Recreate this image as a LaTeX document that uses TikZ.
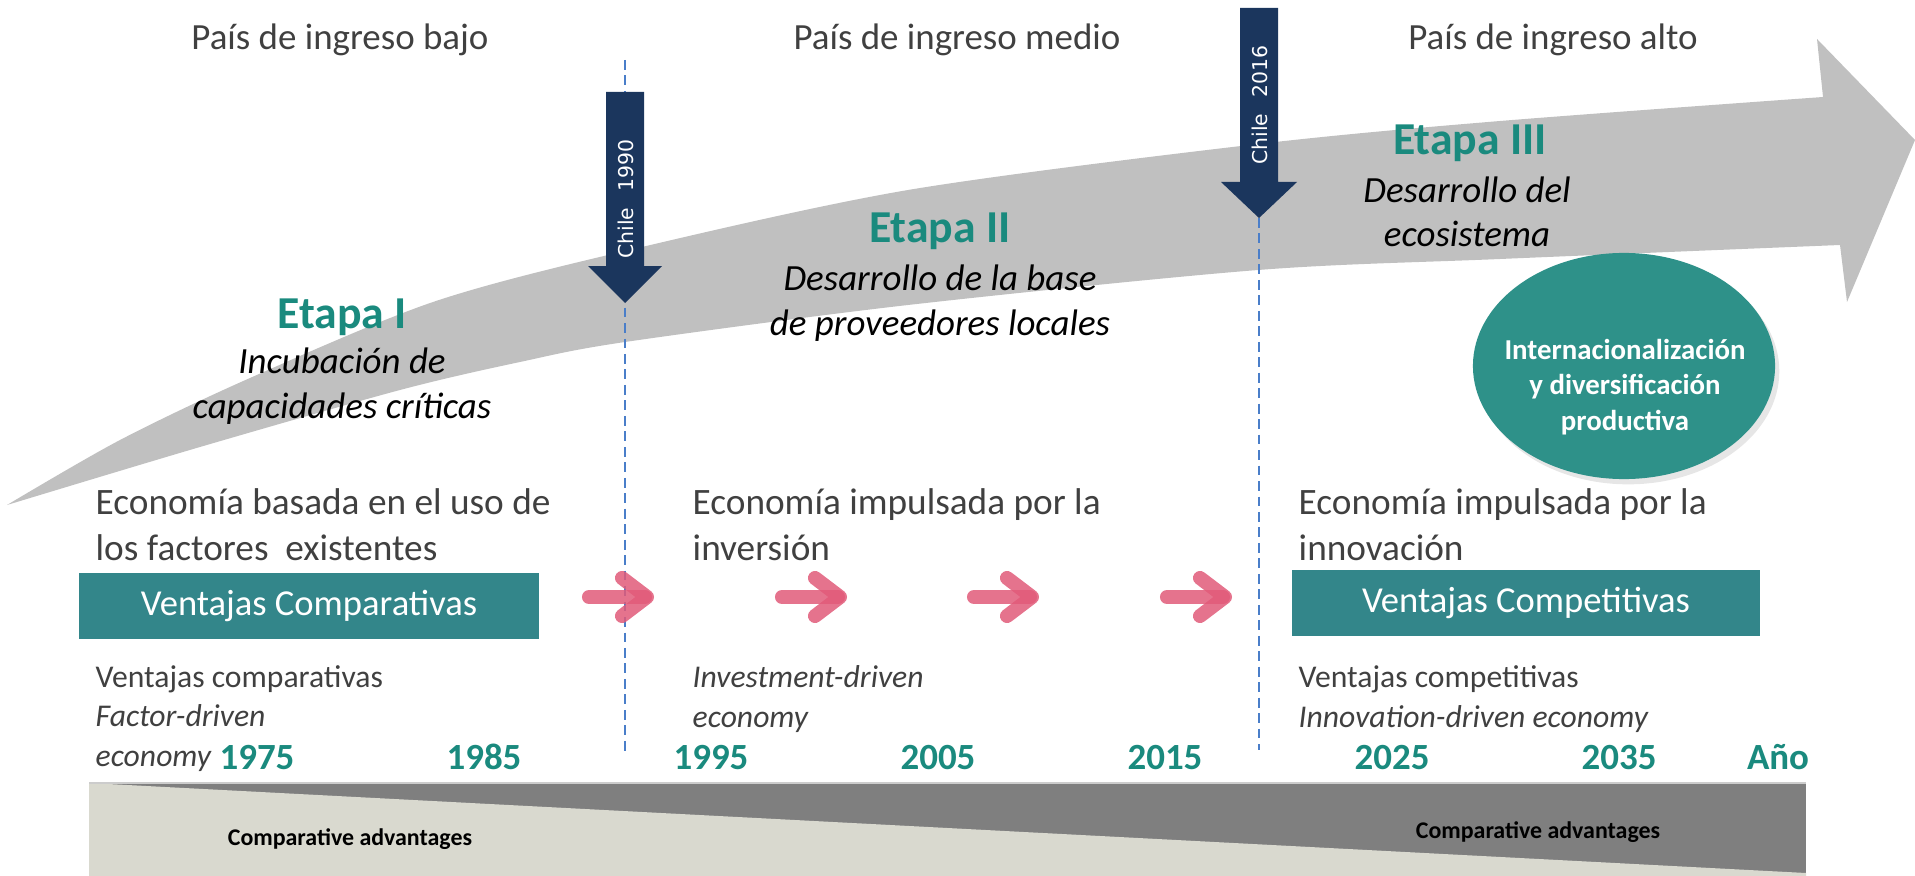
\documentclass[tikz,border=0pt]{standalone}
\usepackage{fontspec}
\setmainfont{Carlito}
\newfontfamily\chilefont{DejaVu Sans}
\usetikzlibrary{positioning, calc, shapes, shadows}

\definecolor{textgray}{HTML}{404040}
\definecolor{etapateal}{HTML}{1A8A7E}
\definecolor{boxteal}{HTML}{33868A}
\definecolor{ovalteal}{HTML}{2E9189}
\definecolor{navy}{HTML}{1B365D}
\definecolor{arrowgray}{HTML}{C0C0C0}
\definecolor{pinkc}{HTML}{E15A79}
\definecolor{guideblue}{HTML}{4A7EC9}
\definecolor{banddark}{HTML}{7F7F7F}
\definecolor{bandlight}{HTML}{D9D9CF}

\begin{document}
\begin{tikzpicture}[x=0.01cm, y=-0.01cm,
    header/.style={font=\fontsize{10.5}{12.6}\selectfont, text=textgray, anchor=base, inner sep=0pt},
    etapa/.style={font=\bfseries\fontsize{13}{15}\selectfont, text=etapateal, anchor=base, inner sep=0pt},
    etapadesc/.style={font=\itshape\fontsize{10.5}{12.6}\selectfont, align=center, anchor=base, inner sep=0pt},
    econ/.style={font=\fontsize{10.6}{12.8}\selectfont, text=textgray, align=left, anchor=base west, inner sep=0pt},
    advbox/.style={fill=boxteal, text=white, font=\fontsize{10.4}{12}\selectfont, minimum height=0.65cm, inner sep=0pt},
    note/.style={font=\fontsize{9}{11.1}\selectfont, text=textgray, align=left, anchor=base west, inner sep=0pt},
    yearlabel/.style={font=\bfseries\fontsize{10.5}{12}\selectfont, text=etapateal, anchor=base, inner sep=0pt},
    bandlabel/.style={font=\bfseries\fontsize{6.8}{8}\selectfont, anchor=base, inner sep=0pt},
    chilelabel/.style={font=\chilefont\fontsize{5.8}{7}\selectfont, text=white, rotate=90, inner sep=0pt},
    pinkarrow/.style={draw=pinkc, line width=4pt, line cap=round, line join=round, opacity=0.85},
    guide/.style={draw=guideblue, line width=0.5pt, dash pattern=on 2.8pt off 1.6pt}]
  \useasboundingbox (0,0) rectangle (1915,876);

  \fill[arrowgray] plot[smooth] coordinates {(7,505) (120,440) (250,378) (433,302) (625,251) (908,190) (1258,144) (1500,121) (1823,97)}
    -- (1817,39) -- (1915,140) -- (1847,302) -- (1840,245)
    -- plot[smooth] coordinates {(1840,245) (1500,259) (1258,270) (908,305) (625,342) (520,362) (400,390) (200,447) (7,505)} -- cycle;

  \coordinate (g1top) at (625,60);
  \coordinate (g1bot) at (625,752);
  \coordinate (g2top) at (1259,218);
  \coordinate (g2bot) at (1259,750);
  \draw[guide] (g1top) -- (g1bot);
  \draw[guide] (g2top) -- (g2bot);

  \fill[navy] (606,92) -- (644,92) -- (644,266) -- (662,266) -- (625,303) -- (588,266) -- (606,266) -- cycle;
  \fill[navy] (1240,8) -- (1278,8) -- (1278,182) -- (1297,182) -- (1259,218) -- (1221,182) -- (1240,182) -- cycle;
  \node[chilelabel] (chile90) at (626,199) {Chile\hspace{0.8em}1990};
  \node[chilelabel] (chile16) at (1260,105) {Chile\hspace{0.8em}2016};

  \node[header] (hdrlow) at (340,50) {País de ingreso bajo};
  \node[header] (hdrmid) at (957,50) {País de ingreso medio};
  \node[header] (hdrhigh) at (1553,50) {País de ingreso alto};

  \node[etapa] (etapaI) at (342,328) {Etapa I};
  \node[etapadesc] (descI) at (342,418) {Incubación de\\capacidades críticas};
  \node[etapa] (etapaII) at (940,242) {Etapa II};
  \node[etapadesc] (descII) at (940,335) {Desarrollo de la base\\de proveedores locales};
  \node[etapa] (etapaIII) at (1470,155) {Etapa III};
  \node[etapadesc] (descIII) at (1467,247) {Desarrollo del\\ecosistema};

  \node[ellipse, fill=ovalteal, minimum width=3.02cm, minimum height=2.26cm,
    drop shadow={opacity=0.2, shadow xshift=1.2pt, shadow yshift=-1.5pt}] (intl) at (1624,366) {};
  \node[font=\bfseries\fontsize{8.2}{10}\selectfont, text=white, align=center, anchor=base, inner sep=0pt]
    (intltext) at (1625,430) {Internacionalización\\y diversificación\\productiva};

  \node[econ] (econI) at (95,560) {Economía basada en el uso de\\los factores~ existentes};
  \node[econ] (econII) at (692,560) {Economía impulsada por la\\inversión};
  \node[econ] (econIII) at (1298,560) {Economía impulsada por la\\innovación};

  \node[advbox, minimum width=4.59cm] (boxcomp) at (309,606) {Ventajas Comparativas};
  \node[advbox, minimum width=4.68cm] (boxcompet) at (1526,603) {Ventajas Competitivas};

  \foreach \x in {582,775,967,1160} {
    \draw[pinkarrow] (\x+7,597) -- (\x+63,597);
    \draw[pinkarrow] (\x+40,578) -- (\x+65,597) -- (\x+40,616);
  }

  \node[note] (noteI) at (95,766) {Ventajas comparativas\\\textit{Factor-driven}\\\textit{economy}};
  \node[note] (noteII) at (692,727) {\textit{Investment-driven}\\\textit{economy}};
  \node[note] (noteIII) at (1298,727) {Ventajas competitivas\\\textit{Innovation-driven economy}};

  \foreach \yr [count=\i from 0] in {1975,1985,...,2035}
    \node[yearlabel] (yr\yr) at (257+227*\i,769) {\yr};
  \node[yearlabel] (ano) at (1778,769) {Año};

  \fill[banddark] (89,783) rectangle (1806,876);
  \fill[bandlight] (89,783) -- (1806,873) -- (1806,876) -- (89,876) -- cycle;
  \draw[white!80!black, line width=0.6pt] (89,783) -- (1806,783);
  \node[bandlabel] (bandleft) at (350,845) {Comparative advantages};
  \node[bandlabel] (bandright) at (1538,838) {Comparative advantages};
\end{tikzpicture}
\end{document}
